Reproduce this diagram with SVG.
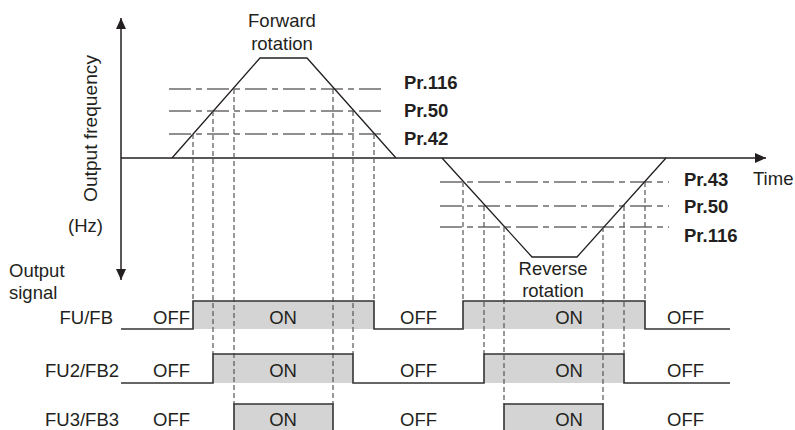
<svg xmlns="http://www.w3.org/2000/svg" width="795" height="430" viewBox="0 0 795 430">
<defs>
<style>
.t{font-family:"Liberation Sans",Arial,sans-serif;font-size:18.5px;fill:#231f20}
.b{font-family:"Liberation Sans",Arial,sans-serif;font-size:18.5px;font-weight:bold;fill:#231f20}
.ax{stroke:#231f20;stroke-width:1.5;fill:none}
.ramp{stroke:#231f20;stroke-width:1.3;fill:none}
.ref{stroke:#231f20;stroke-width:1.2;stroke-dasharray:22 5 6 5;fill:none}
.vd{stroke:#555;stroke-width:1.2;stroke-dasharray:5 3;fill:none}
.on{fill:#d4d4d4;stroke:none}
.sig{stroke:#333;stroke-width:1.6;fill:none}
</style>
<marker id="ah" markerWidth="11" markerHeight="10" refX="11" refY="5" orient="auto-start-reverse" markerUnits="userSpaceOnUse">
<path d="M0,0 L11,5 L0,10 z" fill="#231f20"/>
</marker>
</defs>
<rect width="795" height="430" fill="#fff"/>

<g id="fills">
<rect class="on" x="193" y="301" width="181" height="28"/>
<rect class="on" x="463" y="301" width="182" height="28"/>
<rect class="on" x="213" y="354" width="140" height="29"/>
<rect class="on" x="484" y="354" width="140" height="29"/>
<rect class="on" x="234" y="404" width="99" height="30"/>
<rect class="on" x="504" y="404" width="99" height="30"/>
</g>

<g id="connectors">
<line class="ax" x1="121" y1="280" x2="121" y2="18" marker-start="url(#ah)" marker-end="url(#ah)"/>
<line class="ax" x1="121" y1="158" x2="766" y2="158" marker-end="url(#ah)"/>
<polyline class="ramp" points="172,158 260,58 307,58 396,158"/>
<polyline class="ramp" points="442,158 532,257 577,257 666,158"/>
<line class="ref" x1="169" y1="89" x2="383" y2="89"/>
<line class="ref" x1="169" y1="111" x2="383" y2="111"/>
<line class="ref" x1="169" y1="134" x2="383" y2="134"/>
<line class="ref" x1="440" y1="182" x2="669" y2="182"/>
<line class="ref" x1="440" y1="206" x2="669" y2="206"/>
<line class="ref" x1="440" y1="227" x2="669" y2="227"/>
<line class="vd" x1="193" y1="134" x2="193" y2="301"/>
<line class="vd" x1="213" y1="111" x2="213" y2="354"/>
<line class="vd" x1="234" y1="89" x2="234" y2="404"/>
<line class="vd" x1="333" y1="89" x2="333" y2="404"/>
<line class="vd" x1="353" y1="111" x2="353" y2="354"/>
<line class="vd" x1="374" y1="134" x2="374" y2="301"/>
<line class="vd" x1="463" y1="182" x2="463" y2="301"/>
<line class="vd" x1="484" y1="206" x2="484" y2="354"/>
<line class="vd" x1="504" y1="227" x2="504" y2="404"/>
<line class="vd" x1="603" y1="227" x2="603" y2="404"/>
<line class="vd" x1="624" y1="206" x2="624" y2="354"/>
<line class="vd" x1="645" y1="182" x2="645" y2="301"/>
<path class="sig" d="M121,329 H193 V301 H374 V329 H463 V301 H645 V329 H730"/>
<path class="sig" d="M121,383 H213 V354 H353 V383 H484 V354 H624 V383 H730"/>
<path class="sig" d="M121,434 H234 V404 H333 V434 H504 V404 H603 V434 H730"/>
</g>

<g id="axis-labels">
<text class="t" transform="translate(97,202) rotate(-90)" textLength="147" lengthAdjust="spacingAndGlyphs">Output frequency</text>
<text class="t" x="68" y="232">(Hz)</text>
<text class="t" x="9" y="277">Output</text>
<text class="t" x="9" y="299">signal</text>
<text class="t" x="753" y="185">Time</text>
<text class="t" x="282" y="27" text-anchor="middle">Forward</text>
<text class="t" x="282" y="50" text-anchor="middle">rotation</text>
<text class="t" x="553" y="275" text-anchor="middle">Reverse</text>
<text class="t" x="553" y="297" text-anchor="middle">rotation</text>
</g>

<g id="param-labels">
<text class="b" x="404" y="89">Pr.116</text>
<text class="b" x="404" y="117">Pr.50</text>
<text class="b" x="404" y="145">Pr.42</text>
<text class="b" x="684" y="186">Pr.43</text>
<text class="b" x="684" y="213">Pr.50</text>
<text class="b" x="684" y="242">Pr.116</text>
</g>

<g id="signal-FU">
<text class="t" x="113" y="324" text-anchor="end">FU/FB</text>
<text class="t" x="153" y="324">OFF</text>
<text class="t" x="283" y="324" text-anchor="middle">ON</text>
<text class="t" x="400" y="324">OFF</text>
<text class="t" x="569" y="324" text-anchor="middle">ON</text>
<text class="t" x="667" y="324">OFF</text>
</g>
<g id="signal-FU2">
<text class="t" x="45" y="377">FU2/FB2</text>
<text class="t" x="153" y="377">OFF</text>
<text class="t" x="283" y="377" text-anchor="middle">ON</text>
<text class="t" x="400" y="377">OFF</text>
<text class="t" x="569" y="377" text-anchor="middle">ON</text>
<text class="t" x="667" y="377">OFF</text>
</g>
<g id="signal-FU3">
<text class="t" x="45" y="426">FU3/FB3</text>
<text class="t" x="153" y="426">OFF</text>
<text class="t" x="283" y="426" text-anchor="middle">ON</text>
<text class="t" x="400" y="426">OFF</text>
<text class="t" x="569" y="426" text-anchor="middle">ON</text>
<text class="t" x="667" y="426">OFF</text>
</g>
</svg>
